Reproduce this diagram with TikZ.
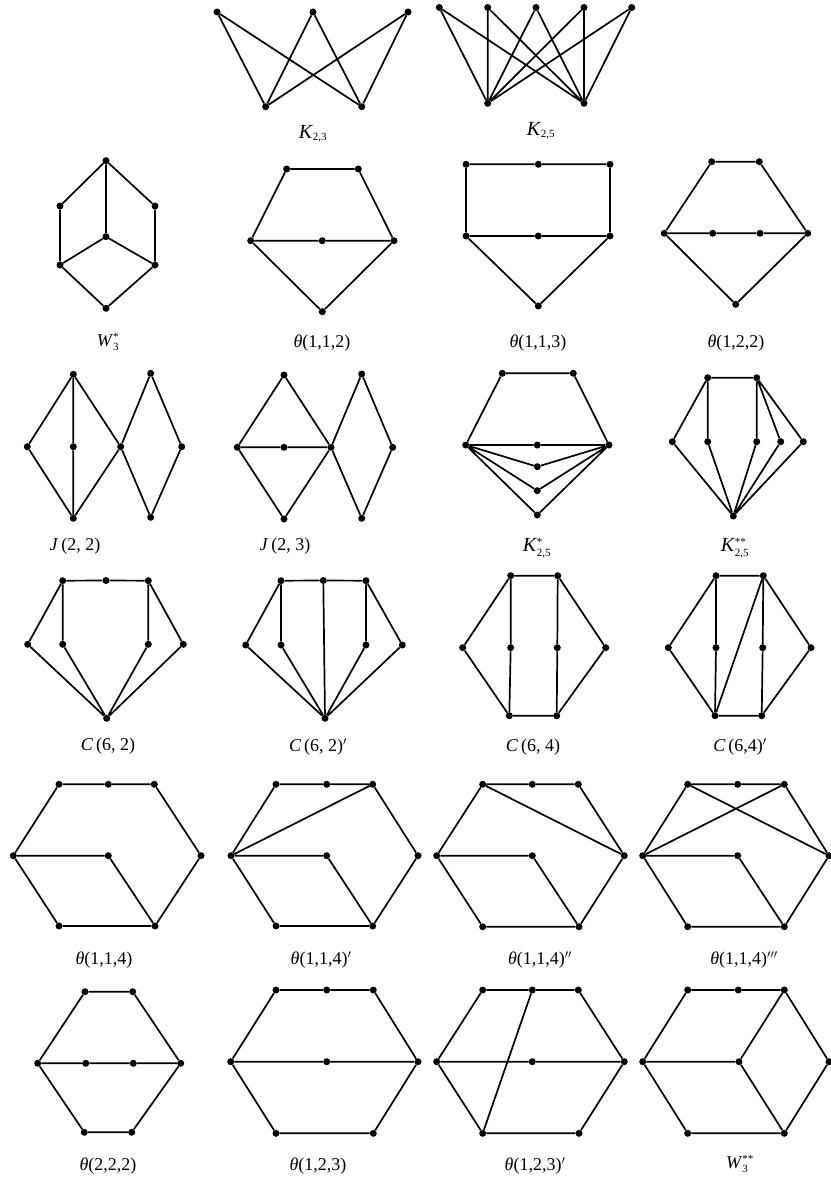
\documentclass[tikz,border=0pt]{standalone}
\usepackage{fontspec}
\setmainfont{Liberation Serif}
\newcommand{\subsz}{\fontsize{11}{11}\selectfont}
\newcommand{\bigK}{\fontsize{20}{22}\selectfont}
\begin{document}
\begin{tikzpicture}[x=1pt,y=-1pt,
  gv/.style={circle,fill=black,inner sep=0pt,minimum size=7pt},
  ge/.style={line width=1.7pt,line join=round},
  lb/.style={inner sep=0pt,font=\fontsize{18}{20}\selectfont}]
\useasboundingbox (0,0) rectangle (830,1180);
% K_{2,3}
\node[gv] (a1) at (217,12) {}; \node[gv] (a2) at (313,12) {}; \node[gv] (a3) at (408,12) {};
\node[gv] (a4) at (265.7,106.7) {}; \node[gv] (a5) at (361.7,106.7) {};
\draw[ge] (a4)--(a1) (a4)--(a2) (a4)--(a3) (a5)--(a1) (a5)--(a2) (a5)--(a3);
\node[lb] (la) at (313,134) {{\bigK\textit{K}}$_{\mbox{\subsz 2,3}}$};
% K_{2,5}
\node[gv] (b1) at (439.3,7.5) {}; \node[gv] (b2) at (487.7,7.5) {}; \node[gv] (b3) at (536,7.5) {};
\node[gv] (b4) at (584,7.5) {}; \node[gv] (b5) at (631.7,7.5) {};
\node[gv] (b6) at (487.7,103.3) {}; \node[gv] (b7) at (584,103.3) {};
\draw[ge] (b6)--(b1) (b6)--(b2) (b6)--(b3) (b6)--(b4) (b6)--(b5)
          (b7)--(b1) (b7)--(b2) (b7)--(b3) (b7)--(b4) (b7)--(b5);
\node[lb] (lb2) at (541,131) {{\bigK\textit{K}}$_{\mbox{\subsz 2,5}}$};
% W_3^*
\node[gv] (c1) at (106,160.7) {}; \node[gv] (c2) at (60,206) {}; \node[gv] (c3) at (155,206) {};
\node[gv] (c4) at (106,236.7) {}; \node[gv] (c5) at (60,265) {}; \node[gv] (c6) at (155,265) {};
\node[gv] (c7) at (106,308.3) {};
\draw[ge] (c1)--(c2) (c1)--(c3) (c1)--(c4) (c2)--(c5) (c3)--(c6) (c4)--(c5) (c4)--(c6) (c5)--(c7) (c6)--(c7);
\node[lb] (lc) at (108,342) {\textit{W}$^{\mbox{\subsz *}}_{\mbox{\subsz 3}}$};
% theta(1,1,2)
\node[gv] (d1) at (286.7,169) {}; \node[gv] (d2) at (358.3,169) {}; \node[gv] (d3) at (250.7,240.7) {};
\node[gv] (d4) at (322.3,240.7) {}; \node[gv] (d5) at (394,240.7) {}; \node[gv] (d6) at (322.3,311.7) {};
\draw[ge] (d1)--(d2) (d1)--(d3) (d2)--(d5) (d3)--(d4)--(d5) (d3)--(d6) (d5)--(d6);
\node[lb] (ld) at (322,343) {\textit{θ}(1,1,2)};
% theta(1,1,3)
\node[gv] (e1) at (466,164.3) {}; \node[gv] (e2) at (538.3,164.3) {}; \node[gv] (e3) at (610,164.3) {};
\node[gv] (e4) at (466,236) {}; \node[gv] (e5) at (538.3,236) {}; \node[gv] (e6) at (610,236) {};
\node[gv] (e7) at (538.3,306) {};
\draw[ge] (e1)--(e2)--(e3) (e1)--(e4) (e3)--(e6) (e4)--(e5)--(e6) (e4)--(e7) (e6)--(e7);
\node[lb] (le) at (538,343) {\textit{θ}(1,1,3)};
% theta(1,2,2)
\node[gv] (f1) at (711.7,161.7) {}; \node[gv] (f2) at (759.3,161.7) {}; \node[gv] (f3) at (664.3,233.3) {};
\node[gv] (f4) at (712.7,233.3) {}; \node[gv] (f5) at (760,233.3) {}; \node[gv] (f6) at (807.7,233.3) {};
\node[gv] (f7) at (735.7,304.3) {};
\draw[ge] (f1)--(f2) (f1)--(f3) (f2)--(f6) (f3)--(f4)--(f5)--(f6) (f3)--(f7) (f6)--(f7);
\node[lb] (lf) at (736,343) {\textit{θ}(1,2,2)};
% J(2,2)
\node[gv] (g1) at (73.3,374.3) {}; \node[gv] (g2) at (27.3,446.7) {}; \node[gv] (g3) at (73.3,446.7) {};
\node[gv] (g4) at (73.3,518.3) {}; \node[gv] (g5) at (120.7,446.7) {}; \node[gv] (g6) at (150.7,373.3) {};
\node[gv] (g7) at (181.7,446.7) {}; \node[gv] (g8) at (150.7,517.3) {};
\draw[ge] (g1)--(g2) (g2)--(g4) (g1)--(g3)--(g4) (g1)--(g5) (g4)--(g5) (g5)--(g6) (g6)--(g7) (g7)--(g8) (g8)--(g5);
\node[lb] (lg) at (75,546) {\textit{J}\,(2, 2)};
% J(2,3)
\node[gv] (h1) at (284,375) {}; \node[gv] (h2) at (237.3,447.3) {}; \node[gv] (h3) at (284,447.3) {};
\node[gv] (h4) at (331,447.3) {}; \node[gv] (h5) at (284,519) {}; \node[gv] (h6) at (361.7,374) {};
\node[gv] (h7) at (392.7,447.3) {}; \node[gv] (h8) at (361.7,518.3) {};
\draw[ge] (h1)--(h2) (h2)--(h5) (h1)--(h4) (h5)--(h4) (h2)--(h3)--(h4) (h4)--(h6) (h6)--(h7) (h7)--(h8) (h8)--(h4);
\node[lb] (lh) at (285,546) {\textit{J}\,(2, 3)};
% K_{2,5}^*
\node[gv] (i1) at (502.3,373.3) {}; \node[gv] (i2) at (573.3,373.3) {}; \node[gv] (i3) at (465.7,445) {};
\node[gv] (i4) at (609,445) {}; \node[gv] (i5) at (537.3,445) {}; \node[gv] (i6) at (537.3,466.7) {};
\node[gv] (i7) at (537.3,490.7) {}; \node[gv] (i8) at (537.3,515) {};
\draw[ge] (i1)--(i2) (i1)--(i3) (i2)--(i4) (i3)--(i5)--(i4) (i3)--(i6)--(i4) (i3)--(i7)--(i4) (i3)--(i8)--(i4);
\node[lb] (li) at (537,548) {{\bigK\textit{K}}$^{\mbox{\subsz *}}_{\mbox{\subsz 2,5}}$};
% K_{2,5}^{**}
\node[gv] (j1) at (707.7,377.7) {}; \node[gv] (j2) at (756.7,377.7) {}; \node[gv] (j3) at (672.3,441.7) {};
\node[gv] (j4) at (707.7,441.7) {}; \node[gv] (j5) at (756.7,441.7) {}; \node[gv] (j6) at (780.7,441.7) {};
\node[gv] (j7) at (803.3,441.7) {}; \node[gv] (j8) at (733.3,516) {};
\draw[ge] (j1)--(j2) (j1)--(j3) (j1)--(j4) (j2)--(j5) (j2)--(j6) (j2)--(j7)
          (j3)--(j8) (j4)--(j8) (j5)--(j8) (j6)--(j8) (j7)--(j8);
\node[lb] (lj) at (735,548) {{\bigK\textit{K}}$^{\mbox{\subsz **}}_{\mbox{\subsz 2,5}}$};
% C(6,2)
\node[gv] (k1) at (62.7,580.7) {}; \node[gv] (k2) at (106,580.5) {}; \node[gv] (k3) at (148.3,580.7) {};
\node[gv] (k4) at (27.7,644.3) {}; \node[gv] (k5) at (62.7,644.3) {}; \node[gv] (k6) at (148.3,644.3) {};
\node[gv] (k7) at (183.3,644.3) {}; \node[gv] (k8) at (106.7,718.3) {};
\draw[ge] (k1)--(k2)--(k3) (k1)--(k4) (k1)--(k5) (k3)--(k6) (k3)--(k7) (k4)--(k8) (k5)--(k8) (k6)--(k8) (k7)--(k8);
\node[lb] (lk) at (108,746) {\textit{C}\,(6, 2)};
% C(6,2)'
\node[gv] (l1) at (281,580.7) {}; \node[gv] (l2) at (323.3,580.5) {}; \node[gv] (l3) at (366,580.7) {};
\node[gv] (l4) at (245.7,645) {}; \node[gv] (l5) at (281,645) {}; \node[gv] (l6) at (366,645) {};
\node[gv] (l7) at (402.3,645) {}; \node[gv] (l8) at (325,718.3) {};
\draw[ge] (l1)--(l2)--(l3) (l1)--(l4) (l1)--(l5) (l3)--(l6) (l3)--(l7) (l4)--(l8) (l5)--(l8) (l6)--(l8) (l7)--(l8) (l2)--(l8);
\node[lb] (ll) at (318,747) {\textit{C}\,(6, 2)$'$};
% C(6,4)
\node[gv] (m1) at (510.7,575.7) {}; \node[gv] (m2) at (557.7,575.7) {}; \node[gv] (m3) at (462.7,647.7) {};
\node[gv] (m4) at (510.7,647.7) {}; \node[gv] (m5) at (557.3,647.7) {}; \node[gv] (m6) at (605.7,647.7) {};
\node[gv] (m7) at (509.3,715.7) {}; \node[gv] (m8) at (556.7,715.7) {};
\draw[ge] (m1)--(m2) (m1)--(m3) (m3)--(m7) (m7)--(m8) (m8)--(m6) (m6)--(m2) (m1)--(m4)--(m7) (m2)--(m5)--(m8);
\node[lb] (lm) at (533,747) {\textit{C}\,(6, 4)};
% C(6,4)'
\node[gv] (n1) at (716,575.7) {}; \node[gv] (n2) at (763.3,575.7) {}; \node[gv] (n3) at (668.3,647.7) {};
\node[gv] (n4) at (716,647.7) {}; \node[gv] (n5) at (762.7,647.7) {}; \node[gv] (n6) at (811,647.7) {};
\node[gv] (n7) at (715,715.7) {}; \node[gv] (n8) at (761.7,715.7) {};
\draw[ge] (n1)--(n2) (n1)--(n3) (n3)--(n7) (n7)--(n8) (n8)--(n6) (n6)--(n2) (n1)--(n4)--(n7) (n2)--(n5)--(n8) (n2)--(n7);
\node[lb] (ln) at (740,747) {\textit{C}\,(6,4)$'$};
% theta(1,1,4)
\node[gv] (o1) at (59,784.3) {}; \node[gv] (o2) at (108.3,784.3) {}; \node[gv] (o3) at (154.3,784.3) {};
\node[gv] (o4) at (13.3,855.7) {}; \node[gv] (o5) at (108.3,855.7) {}; \node[gv] (o6) at (201,855.7) {};
\node[gv] (o7) at (59,926) {}; \node[gv] (o8) at (155,926) {};
\draw[ge] (o1)--(o2)--(o3) (o3)--(o6) (o6)--(o8) (o8)--(o7) (o7)--(o4) (o4)--(o1) (o4)--(o5) (o5)--(o8);
\node[lb] (lo) at (104,960) {\textit{θ}(1,1,4)};
% theta(1,1,4)'
\node[gv] (p1) at (276,784.3) {}; \node[gv] (p2) at (326.7,784.3) {}; \node[gv] (p3) at (372.7,784.3) {};
\node[gv] (p4) at (231,855.7) {}; \node[gv] (p5) at (326.7,855.7) {}; \node[gv] (p6) at (418,855.7) {};
\node[gv] (p7) at (276,926) {}; \node[gv] (p8) at (372.7,926) {};
\draw[ge] (p1)--(p2)--(p3) (p3)--(p6) (p6)--(p8) (p8)--(p7) (p7)--(p4) (p4)--(p1) (p4)--(p5) (p5)--(p8) (p4)--(p3);
\node[lb] (lp) at (321,960) {\textit{θ}(1,1,4)$'$};
% theta(1,1,4)''
\node[gv] (q1) at (482.7,784.3) {}; \node[gv] (q2) at (532.3,784.3) {}; \node[gv] (q3) at (578.3,784.3) {};
\node[gv] (q4) at (436.7,855.7) {}; \node[gv] (q5) at (532.3,855.7) {}; \node[gv] (q6) at (624.3,855.7) {};
\node[gv] (q7) at (482.7,926.7) {}; \node[gv] (q8) at (579,926.7) {};
\draw[ge] (q1)--(q2)--(q3) (q3)--(q6) (q6)--(q8) (q8)--(q7) (q7)--(q4) (q4)--(q1) (q4)--(q5) (q5)--(q8) (q1)--(q6);
\node[lb] (lq) at (540,960) {\textit{θ}(1,1,4)$''$};
% theta(1,1,4)'''
\node[gv] (r1) at (687.7,784.3) {}; \node[gv] (r2) at (737.7,784.3) {}; \node[gv] (r3) at (784.3,784.3) {};
\node[gv] (r4) at (642.7,855.7) {}; \node[gv] (r5) at (737.7,855.7) {}; \node[gv] (r6) at (829,855.7) {};
\node[gv] (r7) at (687.7,926.7) {}; \node[gv] (r8) at (784.3,926.7) {};
\draw[ge] (r1)--(r2)--(r3) (r3)--(r6) (r6)--(r8) (r8)--(r7) (r7)--(r4) (r4)--(r1) (r4)--(r5) (r5)--(r8) (r1)--(r6) (r4)--(r3);
\node[lb] (lr) at (744,960) {\textit{θ}(1,1,4)$'''$};
% theta(2,2,2)
\node[gv] (s1) at (85,991.7) {}; \node[gv] (s2) at (132.7,991.7) {}; \node[gv] (s3) at (37.7,1063.3) {};
\node[gv] (s4) at (85.7,1063.3) {}; \node[gv] (s5) at (133.3,1063.3) {}; \node[gv] (s6) at (180.7,1063.3) {};
\node[gv] (s7) at (84.3,1132.3) {}; \node[gv] (s8) at (131.7,1132.3) {};
\draw[ge] (s1)--(s2) (s2)--(s6) (s6)--(s8) (s8)--(s7) (s7)--(s3) (s3)--(s1) (s3)--(s4)--(s5)--(s6);
\node[lb] (ls) at (108,1166) {\textit{θ}(2,2,2)};
% theta(1,2,3)
\node[gv] (t1) at (276,990) {}; \node[gv] (t2) at (326.7,990) {}; \node[gv] (t3) at (373.3,990) {};
\node[gv] (t4) at (230.7,1061.7) {}; \node[gv] (t5) at (326.7,1061.7) {}; \node[gv] (t6) at (418,1061.7) {};
\node[gv] (t7) at (276,1133.3) {}; \node[gv] (t8) at (373.3,1133.3) {};
\draw[ge] (t1)--(t2)--(t3) (t3)--(t6) (t6)--(t8) (t8)--(t7) (t7)--(t4) (t4)--(t1) (t4)--(t5)--(t6);
\node[lb] (lt) at (318,1166) {\textit{θ}(1,2,3)};
% theta(1,2,3)'
\node[gv] (u1) at (482.7,990) {}; \node[gv] (u2) at (532.3,990) {}; \node[gv] (u3) at (578.3,990) {};
\node[gv] (u4) at (436.7,1061.7) {}; \node[gv] (u5) at (532.3,1061.7) {}; \node[gv] (u6) at (624.3,1061.7) {};
\node[gv] (u7) at (482.7,1133.3) {}; \node[gv] (u8) at (579,1133.3) {};
\draw[ge] (u1)--(u2)--(u3) (u3)--(u6) (u6)--(u8) (u8)--(u7) (u7)--(u4) (u4)--(u1) (u4)--(u5)--(u6) (u2)--(u7);
\node[lb] (lu) at (535,1166) {\textit{θ}(1,2,3)$'$};
% W_3^{**}
\node[gv] (w1) at (687.7,990) {}; \node[gv] (w2) at (738.3,990) {}; \node[gv] (w3) at (784.3,990) {};
\node[gv] (w4) at (642.7,1061.7) {}; \node[gv] (w5) at (739,1061.7) {}; \node[gv] (w6) at (829,1061.7) {};
\node[gv] (w7) at (687.7,1133.3) {}; \node[gv] (w8) at (784.3,1133.3) {};
\draw[ge] (w1)--(w2)--(w3) (w3)--(w6) (w6)--(w8) (w8)--(w7) (w7)--(w4) (w4)--(w1) (w4)--(w5) (w5)--(w3) (w5)--(w8);
\node[lb] (lw) at (740,1164) {\textit{W}$^{\mbox{\subsz **}}_{\mbox{\subsz 3}}$};
\end{tikzpicture}
\end{document}
